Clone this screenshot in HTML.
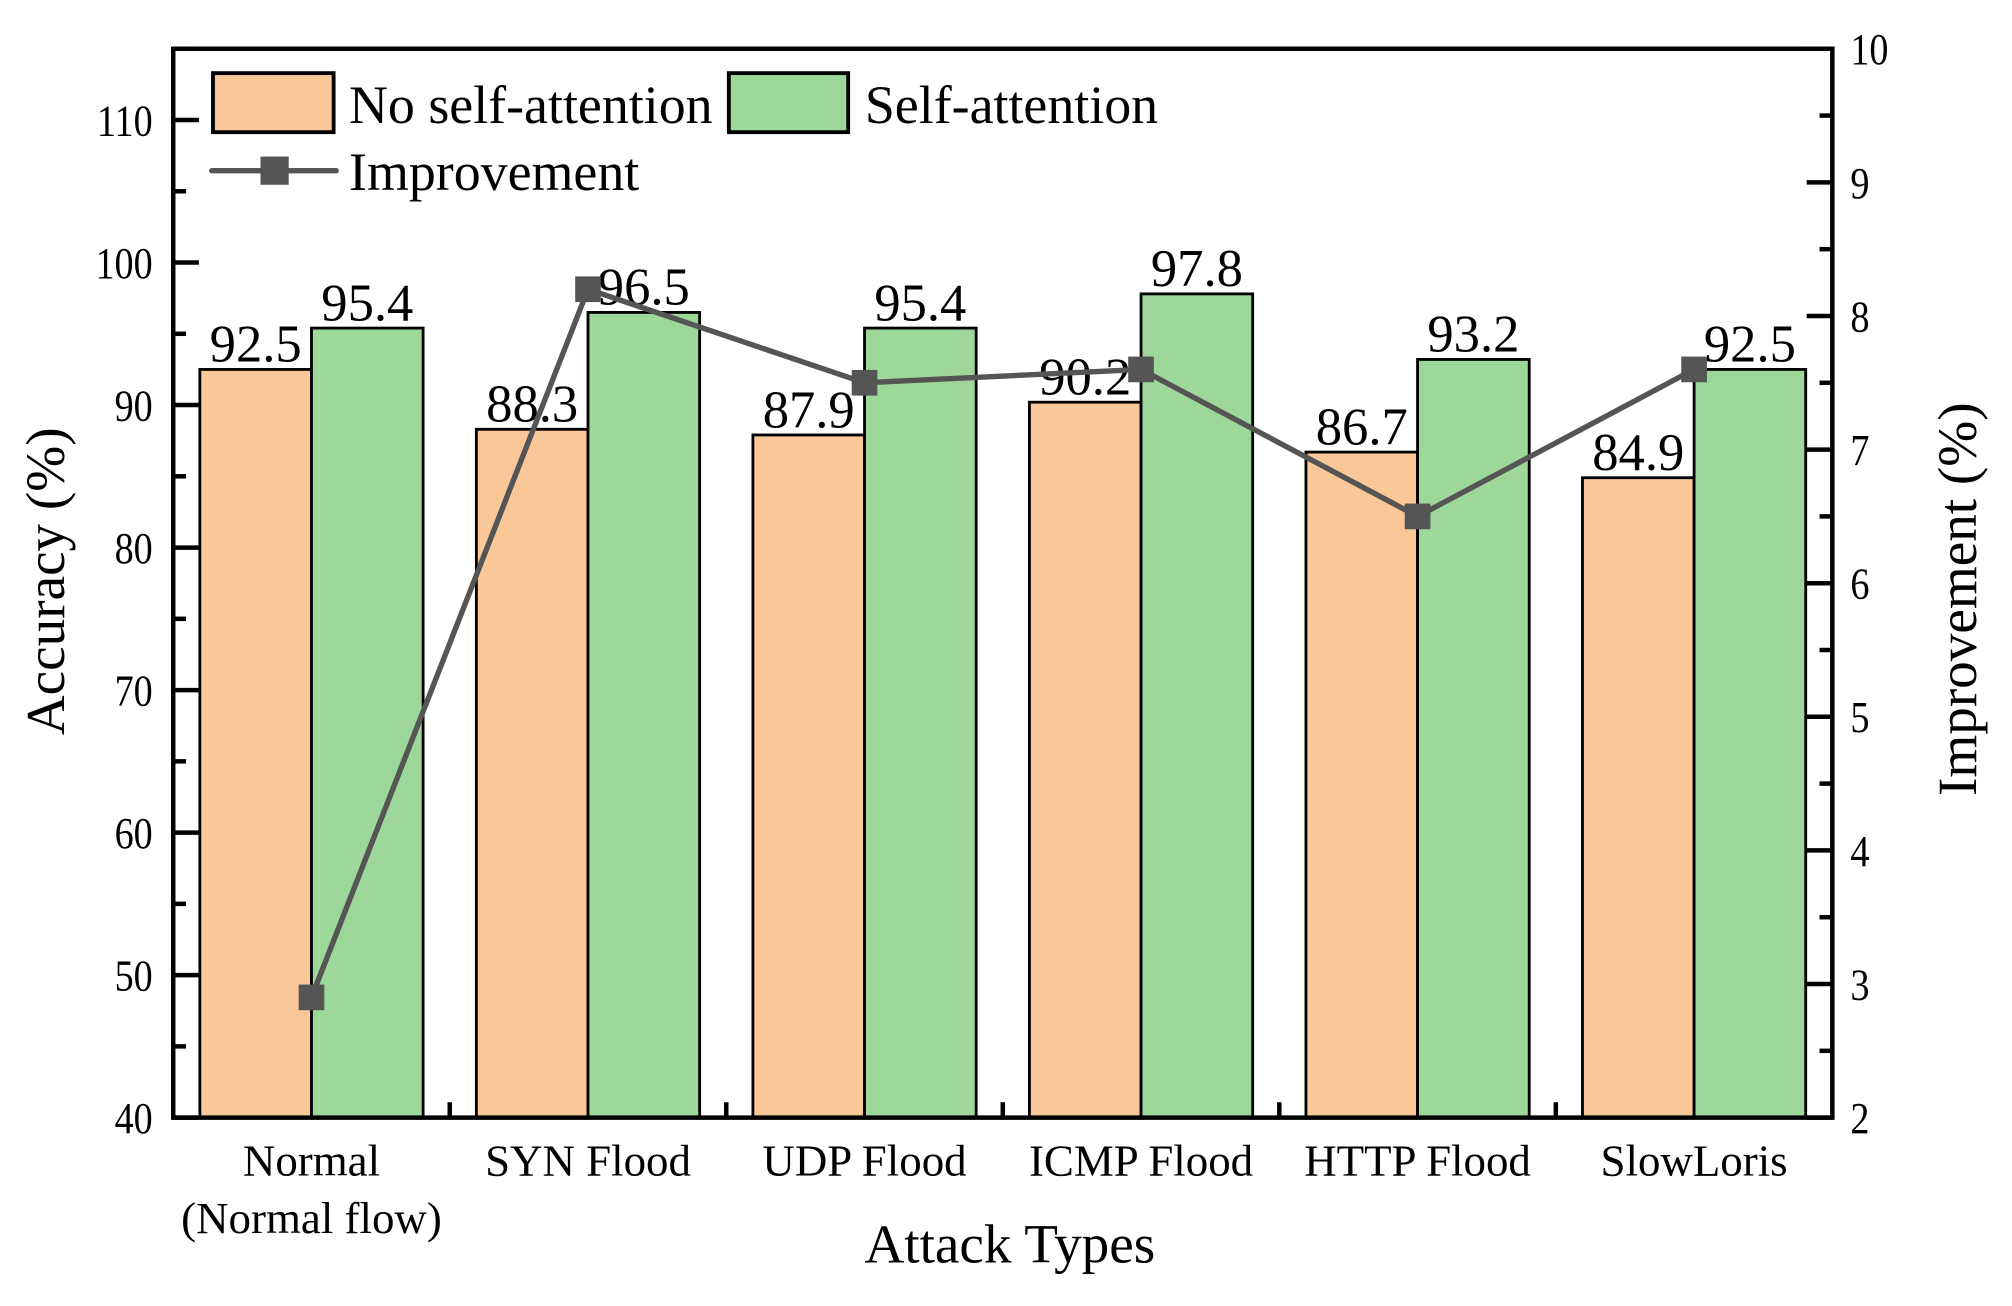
<!DOCTYPE html>
<html><head><meta charset="utf-8"><style>
html,body{margin:0;padding:0;background:#fff;}
svg{display:block;font-family:"Liberation Serif",serif;}
</style></head><body>
<svg id="chart" width="2012" height="1306" viewBox="0 0 1568 1017.8" xmlns="http://www.w3.org/2000/svg"></svg>
<script>
const categories = ["Normal|(Normal flow)", "SYN Flood", "UDP Flood", "ICMP Flood", "HTTP Flood", "SlowLoris"];
const noAttention = [92.5, 88.3, 87.9, 90.2, 86.7, 84.9];
const withAttention = [95.4, 96.5, 95.4, 97.8, 93.2, 92.5];
const improvement = [2.9, 8.2, 7.5, 7.6, 6.5, 7.6];
const leftTicks = [40, 50, 60, 70, 80, 90, 100, 110];
const rightTicks = [2, 3, 4, 5, 6, 7, 8, 9, 10];

const NS = "http://www.w3.org/2000/svg";
const svg = document.getElementById('chart');
const L = 135, R = 1428, T = 38, B = 871;
const yL = v => B - (v - 40) / 75 * (B - T);
const yR = v => B - (v - 2) / 8 * (B - T);
const step = (R - L) / categories.length;
const xC = i => L + step * (i + 0.5);
const bw = 87;

function mk(tag, attrs, parent) {
  const e = document.createElementNS(NS, tag);
  for (const k in attrs) e.setAttribute(k, attrs[k]);
  (parent || svg).appendChild(e);
  return e;
}
function txt(s, attrs, parent) { const e = mk('text', attrs, parent); e.textContent = s; return e; }
function condense(el, f) {
  const w = el.getComputedTextLength();
  el.setAttribute('textLength', (w * f).toFixed(1));
  el.setAttribute('lengthAdjust', 'spacingAndGlyphs');
}

// bars
categories.forEach((c, i) => {
  const x = xC(i);
  const b1 = mk('rect', {x: x - bw, y: yL(noAttention[i]), width: bw, height: B - yL(noAttention[i]), fill: '#FAC898', stroke: '#000', 'stroke-width': 2.2});
  
  
  const b2 = mk('rect', {x: x, y: yL(withAttention[i]), width: bw, height: B - yL(withAttention[i]), fill: '#9ED79A', stroke: '#000', 'stroke-width': 2.2});
  
  
});
// value labels
categories.forEach((c, i) => {
  const x = xC(i);
  const t1 = txt(noAttention[i].toFixed(1), {x: x - bw / 2, y: yL(noAttention[i]) - 6, 'font-size': 41, 'text-anchor': 'middle'});
  
  
  const t2 = txt(withAttention[i].toFixed(1), {x: x + bw / 2, y: yL(withAttention[i]) - 6, 'font-size': 41, 'text-anchor': 'middle'});
  
  
});
// improvement line
const pts = improvement.map((v, i) => xC(i) + ',' + yR(v)).join(' ');
const line = mk('polyline', {points: pts, fill: 'none', stroke: '#555', 'stroke-width': 4.2});


improvement.forEach((v, i) => {
  const m = mk('rect', {x: xC(i) - 10, y: yR(v) - 10, width: 20, height: 20, fill: '#555'});
  
  
});

// axes frame
const frame = mk('rect', {x: L, y: T, width: R - L, height: B - T, fill: 'none', stroke: '#000', 'stroke-width': 3.5});



// left ticks
leftTicks.forEach(v => {
  const y = yL(v);
  const tk = mk('line', {x1: L, x2: L + 20, y1: y, y2: y, stroke: '#000', 'stroke-width': 3.5});
  
  
  const m = mk('line', {x1: L, x2: L + 10, y1: yL(v + 5), y2: yL(v + 5), stroke: '#000', 'stroke-width': 3.5});
  
  
  const t = txt(String(v), {x: L - 16, y: y + 12, 'font-size': 35, 'text-anchor': 'end'});
  
  
  condense(t, 0.85);
});
// right ticks
rightTicks.forEach(v => {
  const y = yR(v);
  const tk = mk('line', {x1: R - 20, x2: R, y1: y, y2: y, stroke: '#000', 'stroke-width': 3.5});
  
  
  if (v < 10) {
    const m = mk('line', {x1: R - 10, x2: R, y1: yR(v + 0.5), y2: yR(v + 0.5), stroke: '#000', 'stroke-width': 3.5});
    
    
  }
  const t = txt(String(v), {x: R + 14, y: y + 12, 'font-size': 35, 'text-anchor': 'start'});
  
  
  condense(t, 0.85);
});
// x ticks and labels
categories.forEach((c, i) => {
  if (i > 0) {
    const tk = mk('line', {x1: L + step * i, x2: L + step * i, y1: B, y2: B - 12, stroke: '#000', 'stroke-width': 3.5});
    
    
  }
  c.split('|').forEach((part, j) => {
    const t = txt(part, {x: xC(i), y: 916 + j * 45, 'font-size': 35, 'text-anchor': 'middle'});
    
    
  });
});
</script>
<svg style="position:absolute;left:0;top:0" width="2012" height="1306" viewBox="0 0 1568 1017.8" xmlns="http://www.w3.org/2000/svg" font-family="Liberation Serif, serif">
  <text x="787" y="984" font-size="43" text-anchor="middle">Attack Types</text>
  <text transform="translate(50,453) rotate(-90)" font-size="43" text-anchor="middle">Accuracy (%)</text>
  <text transform="translate(1540,467) rotate(-90)" font-size="43" text-anchor="middle">Improvement (%)</text>
  <g>
    <rect x="166" y="57" width="94" height="46" fill="#FAC898" stroke="#000" stroke-width="3"/>
    <text x="272" y="96" font-size="42">No self-attention</text>
    <rect x="568" y="57" width="93" height="46" fill="#9ED79A" stroke="#000" stroke-width="3"/>
    <text x="674" y="96" font-size="42">Self-attention</text>
    <line x1="165" y1="133" x2="262" y2="133" stroke="#555" stroke-width="4.2" stroke-linecap="round"/>
    <rect x="203" y="122" width="22" height="22" fill="#555"/>
    <text x="272" y="148" font-size="42">Improvement</text>
  </g>
</svg>
</body></html>
